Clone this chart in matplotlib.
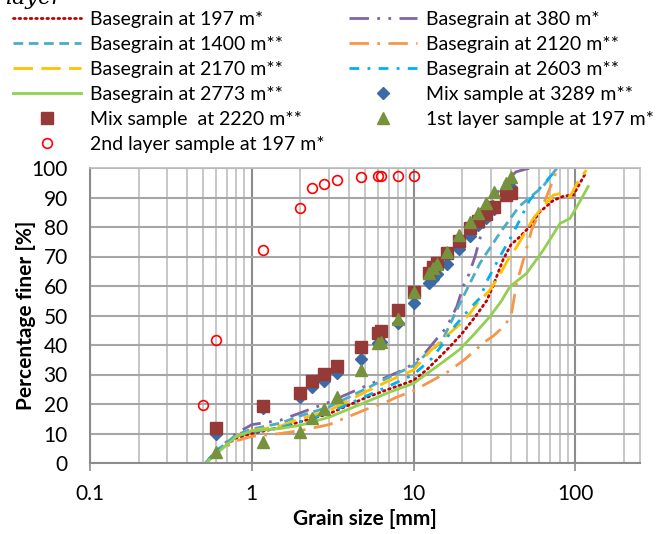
import matplotlib
matplotlib.use("Agg")
import matplotlib.pyplot as plt
from matplotlib.ticker import LogLocator, NullFormatter, FixedLocator, FixedFormatter

plt.rcParams['font.family'] = ['Lato', 'DejaVu Sans']

# ---------------- data ----------------
# Basegrain curves
x197 = [0.52, 0.6, 0.8, 1, 1.5, 2, 3, 5, 7, 10, 12, 16.5, 20, 24, 28.3, 31, 35.8, 40, 45, 52, 60, 73, 85, 97, 117]
y197 = [0, 3.5, 8.5, 10, 12, 14, 16.7, 22, 25, 28, 31.5, 39, 44, 49.5, 55, 60, 69, 74, 76.5, 80, 85, 89, 90.5, 90.8, 98.7]

x380 = [0.52, 0.6, 0.8, 1, 1.5, 2, 3, 5, 7, 9, 11.5, 13.2, 16, 18.5, 20.3, 22, 24, 26.3, 28.3, 31, 35, 43, 50, 55]
y380 = [0, 4, 10, 13, 14.5, 17, 20.6, 26, 29.4, 32, 36.6, 40.6, 46, 53, 60, 64, 70, 78, 83.5, 89, 94, 98.7, 99.7, 100]

x1400 = [0.52, 0.6, 0.8, 1, 1.5, 2, 3, 5, 7, 10, 12, 14.9, 19.3, 25.7, 34.2, 45, 63, 77]
y1400 = [0, 4, 9.5, 11.5, 13.5, 16, 19, 25, 29, 33, 37, 41, 54, 67.7, 78, 87, 93.7, 100]

x2120 = [0.52, 0.6, 0.8, 1, 1.5, 2, 3, 5, 7, 7.85, 10, 12.9, 16.4, 20.5, 27.6, 31, 34.2, 37.6, 40.4, 43.4, 47.7, 53.7, 60.2, 66.4, 74.8, 77]
y2120 = [0, 3.5, 7.5, 9, 10, 11, 13, 18, 21, 22.3, 24.5, 27.8, 31, 34.9, 41.1, 43, 45.1, 47.6, 51, 60.9, 68.8, 79, 85.2, 90.3, 97.6, 100]

x2170 = [0.52, 0.6, 0.8, 1, 1.5, 2, 3, 5, 7, 10, 12.7, 16.7, 19.7, 22.3, 25.7, 29, 32.6, 39.4, 43.4, 50, 55, 63.4, 73, 82, 92.7, 104, 117]
y2170 = [0, 4, 9, 11, 12.5, 15, 17.8, 24, 27.8, 31.5, 38, 44, 47.4, 50.7, 55.3, 58, 62, 70, 73.3, 79, 83, 87, 90.8, 91.5, 90.3, 95.4, 99.3]

x2603 = [0.52, 0.6, 0.8, 1, 1.5, 2, 3, 5, 7, 10, 13, 15, 18.1, 22.4, 25.8, 28.3, 34.2, 40.4, 45, 52, 63.5, 78]
y2603 = [0, 4, 9, 10.5, 12, 14, 17, 22.5, 26, 30, 35.5, 40, 46.6, 52.5, 56, 61.5, 70, 77, 82, 89, 94.5, 100]

x2773 = [0.52, 0.6, 0.8, 1, 1.5, 2, 3, 5, 7, 10, 15, 19.3, 24, 29.6, 35, 39.4, 50, 63.4, 72, 80.4, 92.7, 105, 120]
y2773 = [0, 3, 8.9, 10.9, 11.7, 12.8, 15.5, 20.5, 23.9, 27, 34, 38.5, 44, 49.6, 55, 59.8, 64.3, 72.2, 77, 81.2, 82.9, 88, 93.7]

# Samples
sieve = [0.6, 1.18, 2, 2.36, 2.8, 3.35, 4.75, 6, 6.3, 8, 10, 12.5, 13.2, 14, 16, 19, 22.4, 25, 28, 31.5, 37.5, 40]
mix3289 = [9.8, 18.8, 22.5, 25.9, 27.8, 30.4, 35.2, 40.6, 41.0, 47.4, 54.1, 60.9, 62.5, 64.0, 67.5, 72.4, 76.9, 80.7, 83.0, 86.0, 91.5, 93.7]
mix2220 = [12.0, 19.2, 23.8, 27.9, 30.2, 33.0, 39.2, 44.2, 44.8, 51.9, 58.1, 64.3, 66.3, 67.8, 71.1, 75.3, 79.6, 82.1, 84.3, 86.9, 90.8, 91.4]
layer1 = [3.8, 7.2, 10.4, 15.2, 18.2, 22.3, 31.5, 40.6, 41.1, 48.7, 57.9, 64.3, 66.0, 67.5, 71.6, 77.3, 81.8, 84.6, 88.0, 92.0, 94.8, 97.0]
x_layer2 = [0.5, 0.6, 1.18, 2, 2.36, 2.8, 3.35, 4.75, 6, 6.3, 8, 10]
layer2 = [19.7, 41.7, 72.2, 86.3, 93.2, 94.6, 95.9, 96.8, 97.3, 97.3, 97.3, 97.4]

xticks = [0.1, 1, 10, 100]
xticklabels = ['0.1', '1', '10', '100']
yticks = list(range(0, 101, 10))

# ---------------- figure ----------------
fig = plt.figure(figsize=(6.61, 5.34), dpi=100)
ax = fig.add_axes([90/661, 1-463/534, 550/661, 295/534])

lw = 2.0
h = {}
h['197'], = ax.plot(x197, y197, color='#C00000', lw=lw, ls=(0, (0.6, 1.4)), dash_capstyle='round', label='Basegrain at 197 m*')
h['380'], = ax.plot(x380, y380, color='#8064A2', lw=lw, ls=(0, (7, 3, 1, 3, 1, 3)), label='Basegrain at 380 m*')
h['1400'], = ax.plot(x1400, y1400, color='#4BACC6', lw=lw, ls=(0, (3.5, 2)), label='Basegrain at 1400 m**')
h['2120'], = ax.plot(x2120, y2120, color='#F79646', lw=lw, ls=(0, (7, 3, 1, 3)), label='Basegrain at 2120 m**')
h['2170'], = ax.plot(x2170, y2170, color='#FFC000', lw=lw, ls=(0, (7, 3)), label='Basegrain at 2170 m**')
h['2603'], = ax.plot(x2603, y2603, color='#00B0F0', lw=lw, ls=(0, (3.5, 3, 1, 3)), label='Basegrain at 2603 m**')
h['2773'], = ax.plot(x2773, y2773, color='#92D050', lw=lw, ls='-', label='Basegrain at 2773 m**')
h['m3289'], = ax.plot(sieve, mix3289, ls='none', marker='D', ms=6.5, color='#3C6AA6', mec='#3C6AA6', label='Mix sample at 3289 m**')
h['m2220'], = ax.plot(sieve, mix2220, ls='none', marker='s', ms=8, color='#963A37', mec='#963A37', label='Mix sample  at 2220 m**')
h['l1'], = ax.plot(sieve, layer1, ls='none', marker='^', ms=9, color='#76923C', mec='#76923C', label='1st layer sample at 197 m*')
h['l2'], = ax.plot(x_layer2, layer2, ls='none', marker='o', ms=7, mfc='none', mec='#FF0000', mew=1.2, label='2nd layer sample at 197 m*')

ax.set_xscale('log')
ax.set_xlim(0.1, 251)
ax.set_ylim(0, 100)
ax.xaxis.set_major_locator(FixedLocator(xticks))
ax.xaxis.set_major_formatter(FixedFormatter(xticklabels))
ax.xaxis.set_minor_locator(LogLocator(base=10, subs=range(2, 10), numticks=20))
ax.xaxis.set_minor_formatter(NullFormatter())
ax.set_yticks(yticks)

ax.grid(True, which='major', axis='x', color='#8C8C8C', lw=1.5)
ax.grid(True, which='minor', axis='x', color='#BDBDBD', lw=1.2)
ax.grid(True, which='major', axis='y', color='#A6A6A6', lw=1.5)
ax.set_axisbelow(True)
ax.tick_params(axis='x', which='major', length=6, width=1.2, color='#8C8C8C', labelsize=15, pad=9)
ax.tick_params(axis='x', which='minor', length=0)
ax.tick_params(axis='y', length=0, labelsize=15, pad=16)
for s in ['left', 'bottom']:
    ax.spines[s].set_color('#8C8C8C')
    ax.spines[s].set_linewidth(1.5)
for s in ['top', 'right']:
    ax.spines[s].set_color('#BDBDBD')
    ax.spines[s].set_linewidth(1.2)

ax.set_xlabel('Grain size [mm]', fontsize=15, fontweight='bold', labelpad=4)
ax.set_ylabel('Percentage finer [%]', fontsize=15, fontweight='bold', labelpad=-3)

order = ['197', '1400', '2170', '2773', 'm2220', 'l2', '380', '2120', '2603', 'm3289', 'l1']
fig.legend([h[k] for k in order], [h[k].get_label() for k in order], ncol=2,
           loc='upper left', bbox_to_anchor=(13/661, 1-11/534), frameon=False,
           fontsize=14, handlelength=3.5, handletextpad=0.45, columnspacing=1.25,
           labelspacing=0.41, borderaxespad=0, borderpad=0)

fig.text(5/661, 1-4/534, 'layer', fontsize=16, style='italic', family='DejaVu Serif', va='baseline')

fig.savefig('out.png', dpi=100)
